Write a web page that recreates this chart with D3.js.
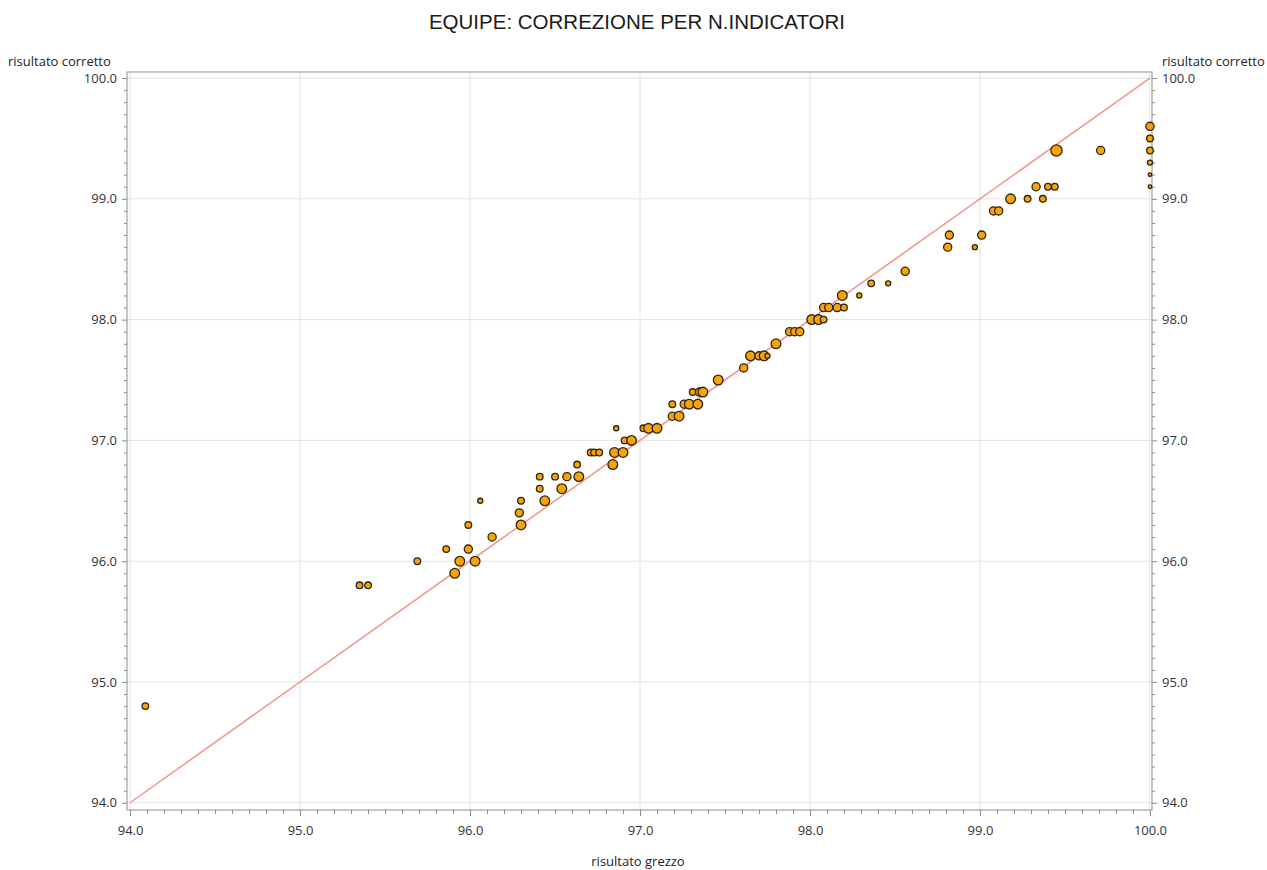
<!DOCTYPE html>
<html><head><meta charset="utf-8">
<script src="https://cdn.jsdelivr.net/npm/d3@7"></script>
<style>
html,body{margin:0;padding:0;background:#fff;}
svg{display:block;}
</style>
</head><body>
<svg id="c" width="1267" height="870"></svg>
<script>
// ---- data ----
const title = "EQUIPE: CORREZIONE PER N.INDICATORI";
const xLabel = "risultato grezzo";
const yLabel = "risultato corretto";
const tickValues = [94, 95, 96, 97, 98, 99, 100];
const grezzo = [94.09,95.35,95.40,95.69,95.86,95.91,95.94,95.99,95.99,96.03,96.06,96.13,96.30,96.29,96.30,96.41,96.50,96.41,96.44,96.57,96.64,96.54,96.63,96.84,96.71,96.73,96.76,96.85,96.90,96.86,96.91,96.95,97.02,97.05,97.10,97.19,97.19,97.23,97.26,97.29,97.34,97.31,97.35,97.37,97.46,97.61,97.65,97.70,97.73,97.75,97.80,97.88,97.91,97.94,98.01,98.05,98.08,98.08,98.11,98.16,98.20,98.19,98.29,98.36,98.46,98.56,98.81,98.82,98.97,99.01,99.08,99.11,99.18,99.28,99.37,99.33,99.40,99.44,99.45,99.71,100.0,100.0,100.0,100.0,100.0,100.0];
const corretto = [94.8,95.8,95.8,96.0,96.1,95.9,96.0,96.1,96.3,96.0,96.5,96.2,96.5,96.4,96.3,96.7,96.7,96.6,96.5,96.7,96.7,96.6,96.8,96.8,96.9,96.9,96.9,96.9,96.9,97.1,97.0,97.0,97.1,97.1,97.1,97.3,97.2,97.2,97.3,97.3,97.3,97.4,97.4,97.4,97.5,97.6,97.7,97.7,97.7,97.7,97.8,97.9,97.9,97.9,98.0,98.0,98.0,98.1,98.1,98.1,98.1,98.2,98.2,98.3,98.3,98.4,98.6,98.7,98.6,98.7,98.9,98.9,99.0,99.0,99.0,99.1,99.1,99.1,99.4,99.4,99.6,99.5,99.4,99.3,99.2,99.1];
const nIndicatori = [2,2,2,2,2,4,4,3,2,4,1,3,2,3,4,2,2,2,4,3,4,4,2,4,2,2,2,4,4,1,2,4,2,4,4,2,3,4,3,4,4,2,3,4,4,3,4,3,4,1,4,3,3,3,4,4,2,3,3,3,2,4,1,2,1,3,3,3,1,3,3,3,4,2,2,3,2,2,5,3,3,2,2,1,0,0];

// ---- chart ----
const svg = d3.select("#c");
const font = "'Open Sans', sans-serif";
const fs = 13;
const x = d3.scaleLinear().domain([93.982, 100.012]).range([127, 1152]);
const y = d3.scaleLinear().domain([93.94, 100.05]).range([810, 72]);
const r = d3.scaleLinear().domain([0, 5]).range([1.8, 5.6]);
const [x0, x1] = x.range();
const [y0, y1] = y.range();
const minor = d3.range(940, 1001).map(v => v / 10).filter(v => Math.round(v * 10) % 10 !== 0);

// gridlines
svg.append("g").selectAll("line.gx").data(tickValues).join("line")
  .attr("x1", d => x(d)).attr("x2", d => x(d)).attr("y1", y1).attr("y2", y0)
  .attr("stroke", "#e2e2e2").attr("stroke-width", 1);
svg.append("g").selectAll("line.gy").data(tickValues).join("line")
  .attr("y1", d => y(d)).attr("y2", d => y(d)).attr("x1", x0).attr("x2", x1)
  .attr("stroke", "#e2e2e2").attr("stroke-width", 1);

// diagonal reference line
svg.append("line")
  .attr("x1", x(94)).attr("y1", y(94)).attr("x2", x(100)).attr("y2", y(100))
  .attr("stroke", "#f1948c").attr("stroke-width", 1.5);

// frame
svg.append("rect").attr("x", x0).attr("y", y1).attr("width", x1 - x0).attr("height", y0 - y1)
  .attr("fill", "none").attr("stroke", "#a8a8a8").attr("stroke-width", 1.3);

function styleAxis(g) {
  g.select(".domain").remove();
  g.selectAll("line").attr("stroke", "#8a8a8a");
  g.selectAll("text").attr("font-family", font).attr("font-size", fs).attr("fill", "#333");
}
const fmt = d3.format(".1f");
// bottom axis
svg.append("g").attr("transform", `translate(0,${y0})`)
  .call(d3.axisBottom(x).tickValues(minor).tickSize(4).tickFormat(""))
  .call(styleAxis);
svg.append("g").attr("transform", `translate(0,${y0})`)
  .call(d3.axisBottom(x).tickValues(tickValues).tickSize(6).tickPadding(10).tickFormat(fmt))
  .call(styleAxis);
// left axis
svg.append("g").attr("transform", `translate(${x0},0)`)
  .call(d3.axisLeft(y).tickValues(minor).tickSize(3).tickFormat(""))
  .call(styleAxis);
svg.append("g").attr("transform", `translate(${x0},0)`)
  .call(d3.axisLeft(y).tickValues(tickValues).tickSize(5).tickPadding(5).tickFormat(fmt))
  .call(styleAxis);
// right axis
svg.append("g").attr("transform", `translate(${x1},0)`)
  .call(d3.axisRight(y).tickValues(minor).tickSize(3).tickFormat(""))
  .call(styleAxis);
svg.append("g").attr("transform", `translate(${x1},0)`)
  .call(d3.axisRight(y).tickValues(tickValues).tickSize(5).tickPadding(5).tickFormat(fmt))
  .call(styleAxis);

// points
const pts = grezzo.map((g, i) => ({g, c: corretto[i], n: nIndicatori[i]}));
svg.append("g").selectAll("circle").data(pts).join("circle")
  .attr("cx", d => x(d.g)).attr("cy", d => y(d.c)).attr("r", d => r(d.n))
  .attr("fill", "#f5a30a").attr("stroke", "#2e2410").attr("stroke-width", 1.3);

// texts
svg.append("text").attr("x", 637).attr("y", 29).attr("text-anchor", "middle")
  .attr("font-family", "'Liberation Sans', Arial, sans-serif").attr("font-size", 20.5).attr("fill", "#1a1a1a")
  .text(title);
svg.append("text").attr("x", 8).attr("y", 66)
  .attr("font-family", font).attr("font-size", fs).attr("fill", "#222").text(yLabel);
svg.append("text").attr("x", 1162).attr("y", 66)
  .attr("font-family", font).attr("font-size", fs).attr("fill", "#222").text(yLabel);
svg.append("text").attr("x", 638).attr("y", 866).attr("text-anchor", "middle")
  .attr("font-family", font).attr("font-size", fs).attr("fill", "#222").text(xLabel);
</script>
</body></html>
